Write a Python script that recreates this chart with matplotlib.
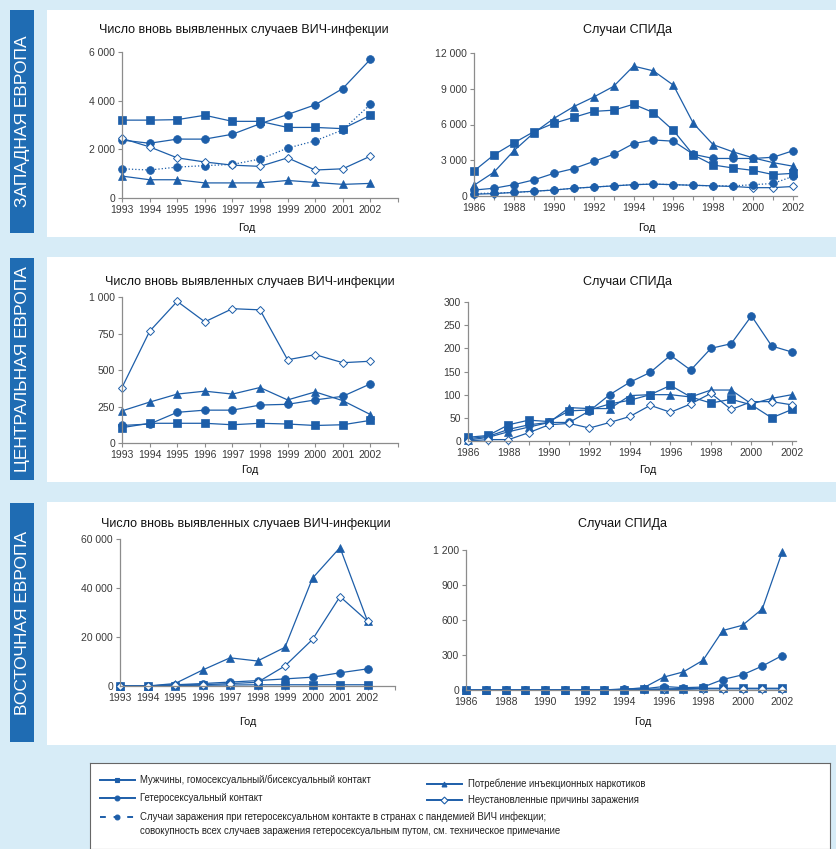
import matplotlib.pyplot as plt
from matplotlib.patches import Rectangle

W, H = 837, 849
BLUE = '#1d5ea9'
SIDE = '#1f6cb3'
BG = '#d7ecf7'
AXC = '#8c8c8c'
TXT = '#3a3a3a'

plt.rcParams['font.family'] = ['Liberation Sans', 'DejaVu Sans']

# годы
hiv_years = list(range(1993, 2003))
aids_years = list(range(1986, 2003))

# Западная Европа, ВИЧ
west_hiv_msm = [3200, 3200, 3220, 3400, 3150, 3150, 2900, 2900, 2850, 3400]
west_hiv_het = [2380, 2250, 2420, 2420, 2620, 3050, 3430, 3830, 4500, 5700]
west_hiv_het_pand = [1200, 1150, 1270, 1330, 1380, 1600, 2050, 2350, 2800, 3850]
west_hiv_idu = [900, 750, 750, 620, 620, 620, 720, 640, 560, 600]
west_hiv_unk = [2450, 2100, 1650, 1480, 1350, 1300, 1650, 1150, 1200, 1720]

# Западная Европа, СПИД
west_aids_msm = [2100, 3450, 4450, 5400, 6100, 6600, 7100, 7200, 7700, 7000, 5500, 3450, 2600,
                 2350, 2150, 1800, 1900]
west_aids_het = [500, 650, 950, 1350, 1900, 2300, 2900, 3500, 4400, 4700, 4600, 3500, 3150,
                 3150, 3150, 3250, 3800]
west_aids_het_pand = [200, 250, 300, 400, 500, 650, 750, 850, 950, 1000, 950, 900, 850,
                      850, 950, 1050, 1650]
west_aids_idu = [900, 2000, 3800, 5300, 6500, 7500, 8300, 9200, 10900, 10500, 9300, 6100, 4300,
                 3700, 3200, 2800, 2500]
west_aids_unk = [150, 200, 300, 400, 500, 650, 750, 850, 950, 1000, 950, 900, 850,
                 800, 700, 700, 800]

# Центральная Европа, ВИЧ
cent_hiv_msm = [105, 135, 135, 135, 125, 135, 130, 120, 125, 155]
cent_hiv_het = [120, 130, 210, 225, 225, 260, 265, 295, 320, 405]
cent_hiv_idu = [220, 280, 335, 355, 335, 380, 295, 350, 290, 195]
cent_hiv_unk = [380, 765, 970, 830, 920, 912, 570, 605, 550, 560]

# Центральная Европа, СПИД
cent_aids_msm = [8, 12, 35, 45, 42, 65, 67, 80, 88, 100, 120, 95, 82, 90, 78, 50, 68]
cent_aids_het = [5, 10, 25, 35, 40, 40, 65, 100, 127, 148, 185, 153, 200, 210, 270, 205, 192]
cent_aids_idu = [2, 8, 20, 30, 40, 72, 70, 70, 98, 100, 100, 95, 110, 110, 80, 92, 100]
cent_aids_unk = [0, 3, 3, 18, 35, 38, 28, 40, 53, 77, 62, 80, 103, 68, 85, 85, 78]

# Восточная Европа, ВИЧ
east_hiv_msm = [0, 0, 200, 300, 400, 500, 500, 500, 500, 500]
east_hiv_het = [0, 0, 500, 1000, 1600, 2200, 2900, 3600, 5400, 7000]
east_hiv_idu = [0, 0, 1000, 6500, 11500, 10200, 15800, 44000, 56500, 26500]
east_hiv_unk = [0, 0, 500, 500, 1000, 1500, 8200, 19000, 36500, 26500]

# Восточная Европа, СПИД
east_aids_msm = [0, 0, 0, 0, 0, 0, 0, 0, 2, 5, 10, 12, 15, 15, 15, 15, 15]
east_aids_het = [0, 0, 0, 0, 0, 0, 0, 0, 10, 10, 30, 20, 25, 90, 130, 205, 295]
east_aids_idu = [0, 0, 0, 0, 0, 0, 0, 0, 5, 20, 110, 155, 255, 510, 555, 695, 1180]
east_aids_unk = [0, 0, 0, 0, 0, 0, 0, 0, 0, 5, 5, 5, 10, 10, 10, 10, 10]

row_labels = ['ЗАПАДНАЯ ЕВРОПА', 'ЦЕНТРАЛЬНАЯ ЕВРОПА', 'ВОСТОЧНАЯ ЕВРОПА']
hiv_title = 'Число вновь выявленных случаев ВИЧ-инфекции'
aids_title = 'Случаи СПИДа'

legend_labels = [
    'Мужчины, гомосексуальный/бисексуальный контакт',
    'Гетеросексуальный контакт',
    'Случаи заражения при гетеросексуальном контакте в странах с пандемией ВИЧ инфекции;\n'
    'совокупность всех случаев заражения гетеросексуальным путом, см. техническое примечание',
    'Потребление инъекционных наркотиков',
    'Неустановленные причины заражения',
]

# стиль линий: маркер, заливка, тип линии
STYLES = {
    'msm': ('s', BLUE, '-'),
    'het': ('o', BLUE, '-'),
    'pand': ('o', BLUE, ':'),
    'idu': ('^', BLUE, '-'),
    'unk': ('D', 'white', '-'),
}


def fig_rect(x0, y0, x1, y1):
    # пиксели -> доли фигуры
    return [x0 / W, 1 - y1 / H, (x1 - x0) / W, (y1 - y0) / H]


def draw_panel(ax, years, series, yticks, ylabels, xlim, xticks):
    for key, vals in series:
        m, fc, ls = STYLES[key]
        ms = 4.0 if m == 'D' else 5.6
        if m == '^':
            ms = 6
        ax.plot(years, vals, color=BLUE, lw=0.9, ls=ls, marker=m, ms=ms,
                mfc=fc, mec=BLUE, mew=0.7 if m == 'D' else 0.5, clip_on=False)
    ax.set_xlim(*xlim)
    ax.set_ylim(yticks[0], yticks[-1])
    ax.set_yticks(yticks)
    ax.set_yticklabels(ylabels)
    all_years = list(range(int(xlim[0]), int(xlim[1]) + 1))
    ax.set_xticks(all_years)
    ax.set_xticklabels([str(y) if y in xticks else '' for y in all_years])
    for s in ['top', 'right']:
        ax.spines[s].set_visible(False)
    for s in ['left', 'bottom']:
        ax.spines[s].set_color(AXC)
        ax.spines[s].set_linewidth(0.9)
    ax.tick_params(colors=AXC, labelcolor=TXT, labelsize=7.5, length=3, width=0.8, pad=2)
    ax.set_facecolor('none')


fig = plt.figure(figsize=(W / 100, H / 100), dpi=100, facecolor=BG)

# белые подложки и синие ярлыки
panels = [(10, 237), (257, 482), (502, 745)]
sides = [(10, 233), (258, 480), (503, 742)]
for (t, b), (st, sb), lab in zip(panels, sides, row_labels):
    fig.add_artist(Rectangle((47 / W, 1 - b / H), (W - 47) / W, (b - t) / H,
                             transform=fig.transFigure, fc='white', ec='none', zorder=-10))
    fig.add_artist(Rectangle((10 / W, 1 - sb / H), 24 / W, (sb - st) / H,
                             transform=fig.transFigure, fc=SIDE, ec='none', zorder=-10))
    fig.text(22.5 / W, 1 - (st + sb) / 2 / H, lab, rotation=90, color='white',
             fontsize=12.5, ha='center', va='center')

# Западная Европа
ax = fig.add_axes(fig_rect(122, 52, 398, 198))
draw_panel(ax, hiv_years,
           [('msm', west_hiv_msm), ('het', west_hiv_het), ('pand', west_hiv_het_pand),
            ('idu', west_hiv_idu), ('unk', west_hiv_unk)],
           [0, 2000, 4000, 6000], ['0', '2 000', '4 000', '6 000'],
           (1993, 2003), hiv_years)
ax = fig.add_axes(fig_rect(474, 53, 797, 196))
draw_panel(ax, aids_years,
           [('unk', west_aids_unk), ('msm', west_aids_msm), ('het', west_aids_het),
            ('pand', west_aids_het_pand), ('idu', west_aids_idu)],
           [0, 3000, 6000, 9000, 12000], ['0', '3 000', '6 000', '9 000', '12 000'],
           (1986, 2002.2), aids_years[::2])

# Центральная Европа
ax = fig.add_axes(fig_rect(122, 297, 398, 443))
draw_panel(ax, hiv_years,
           [('msm', cent_hiv_msm), ('het', cent_hiv_het), ('idu', cent_hiv_idu),
            ('unk', cent_hiv_unk)],
           [0, 250, 500, 750, 1000], ['0', '250', '500', '750', '1 000'],
           (1993, 2003), hiv_years)
ax = fig.add_axes(fig_rect(468, 302, 796, 441))
draw_panel(ax, aids_years,
           [('msm', cent_aids_msm), ('het', cent_aids_het), ('idu', cent_aids_idu),
            ('unk', cent_aids_unk)],
           [0, 50, 100, 150, 200, 250, 300], ['0', '50', '100', '150', '200', '250', '300'],
           (1986, 2002.2), aids_years[::2])

# Восточная Европа
ax = fig.add_axes(fig_rect(120, 539, 395, 686))
draw_panel(ax, hiv_years,
           [('msm', east_hiv_msm), ('het', east_hiv_het), ('idu', east_hiv_idu),
            ('unk', east_hiv_unk)],
           [0, 20000, 40000, 60000], ['0', '20 000', '40 000', '60 000'],
           (1993, 2003), hiv_years)
ax = fig.add_axes(fig_rect(466, 550, 786, 690))
draw_panel(ax, aids_years,
           [('msm', east_aids_msm), ('unk', east_aids_unk), ('het', east_aids_het),
            ('idu', east_aids_idu)],
           [0, 300, 600, 900, 1200], ['0', '300', '600', '900', '1 200'],
           (1986, 2002.2), aids_years[::2])

# заголовки и подписи осей
for y, xl, xr in [(30, 244, 628), (282, 250, 628), (524, 246, 623)]:
    fig.text(xl / W, 1 - y / H, hiv_title, fontsize=9, color='#111111', ha='center', va='center')
    fig.text(xr / W, 1 - y / H, aids_title, fontsize=9, color='#111111', ha='center', va='center')
for y, xl, xr in [(228, 247, 647), (470, 250, 648), (722, 248, 643)]:
    fig.text(xl / W, 1 - y / H, 'Год', fontsize=7.8, color='#111111', ha='center', va='center')
    fig.text(xr / W, 1 - y / H, 'Год', fontsize=7.8, color='#111111', ha='center', va='center')

# легенда
lax = fig.add_axes(fig_rect(90, 763, 830, 849))
lax.set_xlim(90, 830)
lax.set_ylim(849, 763)
lax.set_xticks([])
lax.set_yticks([])
lax.set_facecolor('white')
for s in lax.spines.values():
    s.set_color('#666666')
    s.set_linewidth(0.8)
leg_pos = [(100, 140, 780), (100, 140, 798), (100, 140, 817), (427, 468, 784), (427, 468, 800)]
for key, lab, (x0, xt, y) in zip(['msm', 'het', 'pand', 'idu', 'unk'], legend_labels, leg_pos):
    m, fc, ls = STYLES[key]
    lax.plot([x0, x0 + 35], [y, y], color=BLUE, lw=1.4, ls=(0, (3, 4)) if ls == ':' else '-')
    lax.plot([x0 + 17], [y], marker=m, ms=3.5, mfc=fc, mec=BLUE, mew=0.8, color=BLUE)
    if '\n' in lab:
        lax.text(xt, y - 5, lab, fontsize=6.9, color='#222222', va='top', ha='left',
                 linespacing=1.4)
    else:
        lax.text(xt, y, lab, fontsize=6.9, color='#222222', va='center', ha='left')

fig.savefig('out.png', dpi=100, facecolor=BG)
